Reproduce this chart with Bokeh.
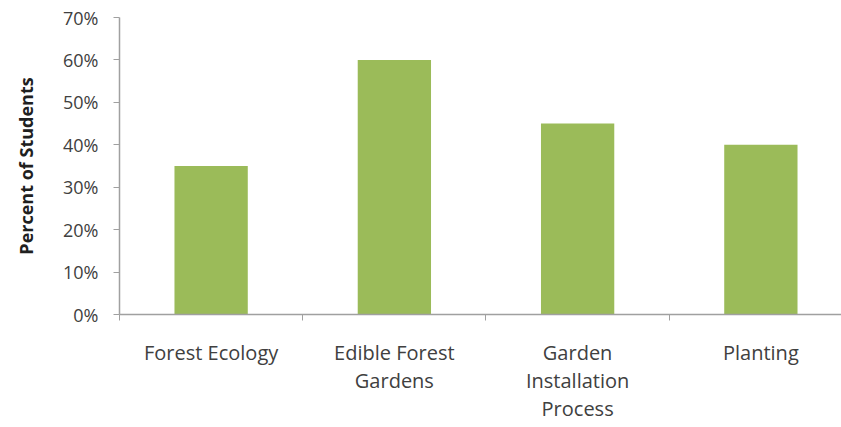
from bokeh.plotting import figure
from bokeh.models import FixedTicker, NumeralTickFormatter, Range1d, ColumnDataSource
from bokeh.embed import file_html
from bokeh.resources import INLINE

categories = ["Forest Ecology", "Edible Forest\nGardens", "Garden\nInstallation\nProcess", "Planting"]
percent = [0.35, 0.60, 0.45, 0.40]
y_ticks = [0, 0.1, 0.2, 0.3, 0.4, 0.5, 0.6, 0.7]

xpos = [i + 0.5 for i in range(len(categories))]
src = ColumnDataSource(dict(x=xpos, top=percent))

p = figure(width=841, height=427, output_backend="svg", toolbar_location=None,
           x_range=Range1d(0, 3.94), y_range=Range1d(0, 0.7),
           min_border_left=119, min_border_right=0, min_border_top=17, min_border_bottom=113)
p.outline_line_color = None
p.xgrid.visible = False
p.ygrid.visible = False
p.background_fill_color = "white"
p.border_fill_color = "white"

p.vbar(x="x", top="top", width=0.4, bottom=0, source=src, fill_color="#9bbb59", line_color=None)

axis_color = "#a0a0a0"
font = "Open Sans"
text_color = "#404040"

xa = p.xaxis[0]
xa.ticker = FixedTicker(ticks=xpos, minor_ticks=[0, 1, 2, 3])
xa.major_label_overrides = {x: c for x, c in zip(xpos, categories)}
xa.major_tick_line_color = None
xa.minor_tick_in = 0
xa.minor_tick_out = 6
xa.minor_tick_line_color = axis_color
xa.axis_line_color = axis_color
xa.axis_line_width = 1.5
xa.major_label_text_font = font
xa.major_label_text_font_size = "20px"
xa.major_label_text_color = text_color
xa.major_label_text_line_height = 1.05
xa.major_label_standoff = 18

ya = p.yaxis[0]
ya.ticker = FixedTicker(ticks=y_ticks)
ya.formatter = NumeralTickFormatter(format="0%")
ya.minor_tick_line_color = None
ya.major_tick_in = 0
ya.major_tick_out = 6
ya.major_tick_line_color = axis_color
ya.axis_line_color = axis_color
ya.axis_line_width = 1.5
ya.major_label_text_font = font
ya.major_label_text_font_size = "18px"
ya.major_label_text_color = text_color
ya.major_label_standoff = 15
ya.axis_label = "Percent of Students"
ya.axis_label_text_font = font
ya.axis_label_text_font_size = "18px"
ya.axis_label_text_font_style = "bold"
ya.axis_label_text_color = "#202020"
ya.axis_label_standoff = 22

open("out.html", "w").write(file_html(p, INLINE))
